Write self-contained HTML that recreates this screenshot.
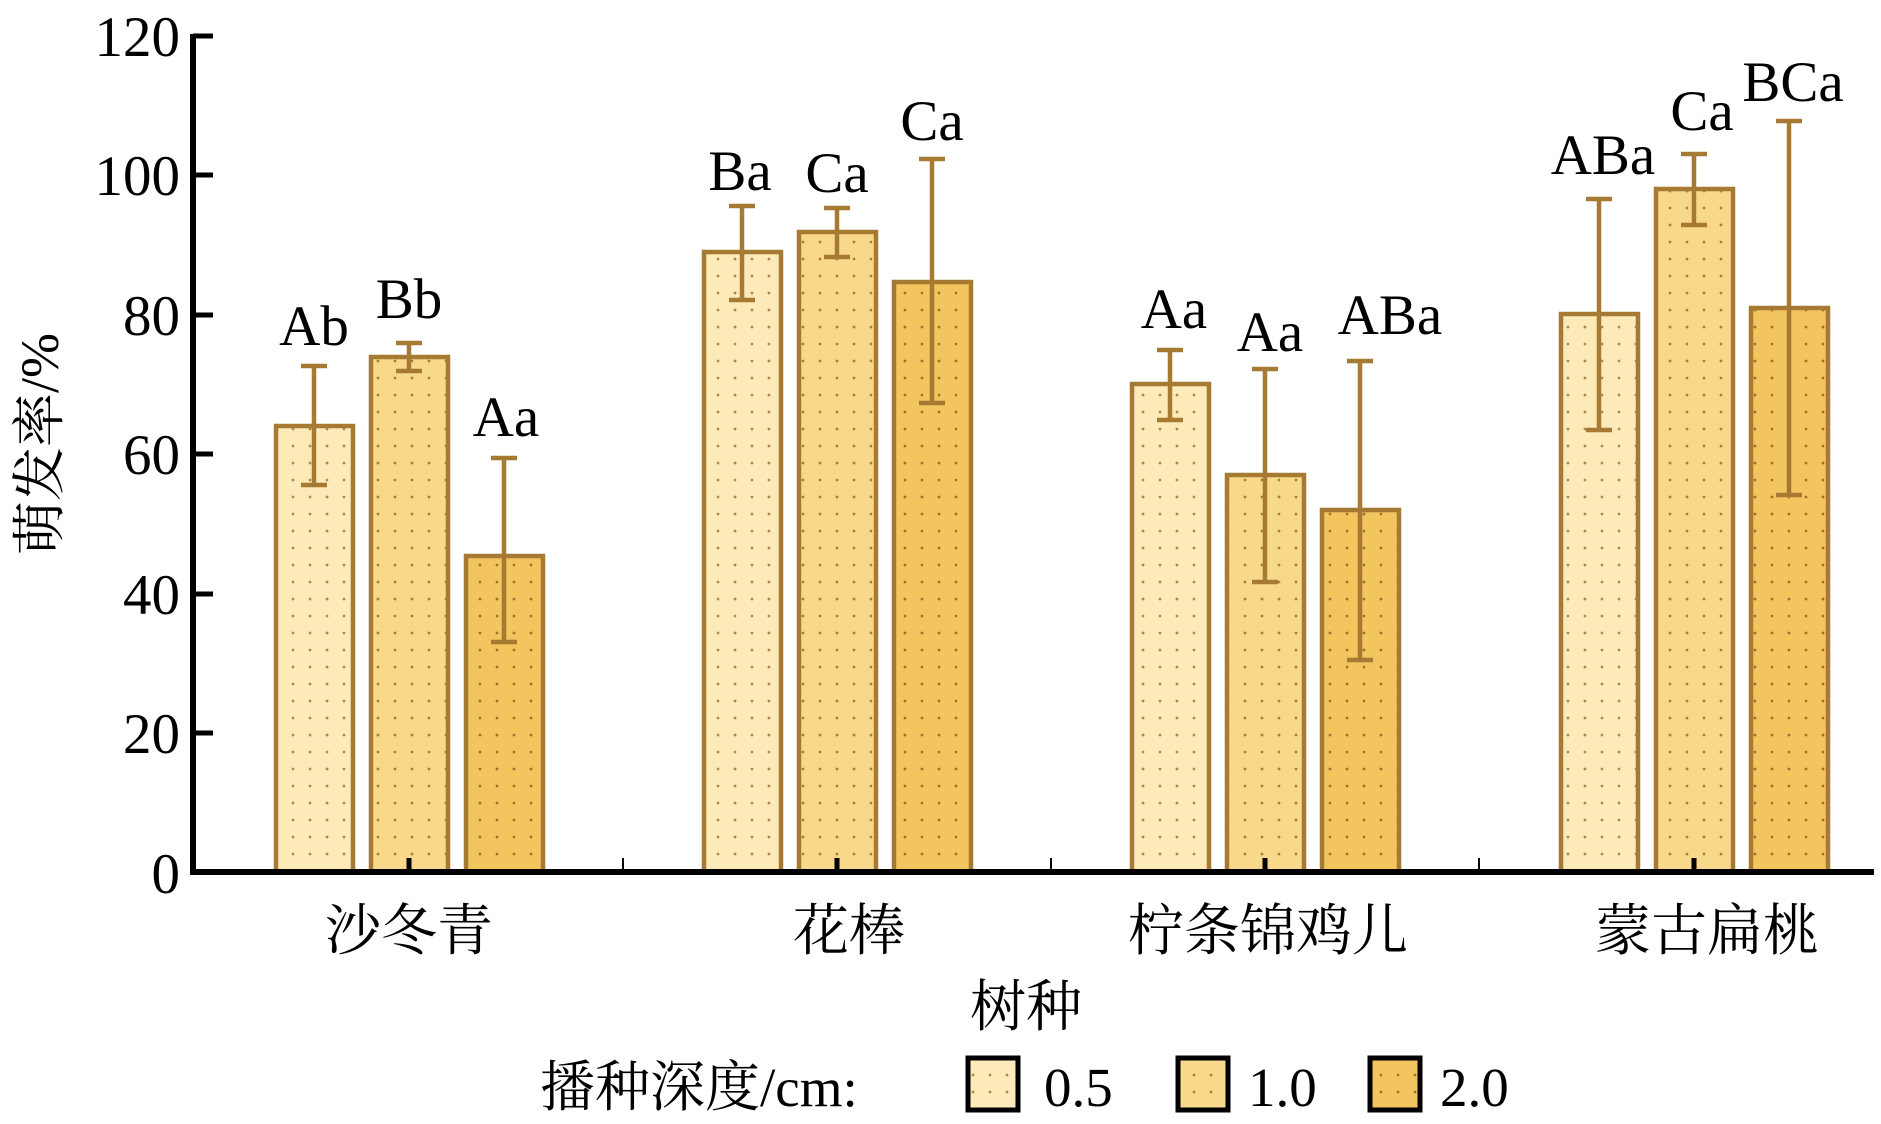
<!DOCTYPE html>
<html><head><meta charset="utf-8"><style>
html,body{margin:0;padding:0;background:#fff}
svg{display:block}
text{font-family:"Liberation Serif","Noto Serif CJK SC",serif;fill:#000}
</style></head><body>
<svg width="1881" height="1124" viewBox="0 0 1881 1124" xmlns="http://www.w3.org/2000/svg">
<defs>
<pattern id="d1" width="17" height="17" patternUnits="userSpaceOnUse"><rect width="17" height="17" fill="#FCEBB8"/><circle cx="4" cy="4" r="1.4" fill="#B08A4A"/></pattern>
<pattern id="d2" width="17" height="17" patternUnits="userSpaceOnUse"><rect width="17" height="17" fill="#F8D98C"/><circle cx="4" cy="4" r="1.4" fill="#A8803C"/></pattern>
<pattern id="d3" width="17" height="17" patternUnits="userSpaceOnUse"><rect width="17" height="17" fill="#F2C55E"/><circle cx="4" cy="4" r="1.4" fill="#9C7430"/></pattern>
</defs>
<g id="bars" stroke="#A67A32" stroke-width="4.5">
<rect x="276" y="426" width="77" height="446" fill="url(#d1)"/>
<rect x="371" y="357" width="77" height="515" fill="url(#d2)"/>
<rect x="466" y="556" width="77" height="316" fill="url(#d3)"/>
<rect x="704" y="252" width="77" height="620" fill="url(#d1)"/>
<rect x="799" y="232" width="77" height="640" fill="url(#d2)"/>
<rect x="894" y="282" width="77" height="590" fill="url(#d3)"/>
<rect x="1132" y="384" width="77" height="488" fill="url(#d1)"/>
<rect x="1227" y="475" width="77" height="397" fill="url(#d2)"/>
<rect x="1322" y="510" width="77" height="362" fill="url(#d3)"/>
<rect x="1561" y="314" width="77" height="558" fill="url(#d1)"/>
<rect x="1656" y="189" width="77" height="683" fill="url(#d2)"/>
<rect x="1751" y="308" width="77" height="564" fill="url(#d3)"/>
</g>
<g stroke="#A67A32" stroke-width="4.5" fill="none">
<path d="M314 366V485M301 366h26M301 485h26"/>
<path d="M409 343V371M396 343h26M396 371h26"/>
<path d="M504 458V642M491 458h26M491 642h26"/>
<path d="M742 206V300M729 206h26M729 300h26"/>
<path d="M837 208V257M824 208h26M824 257h26"/>
<path d="M932 159V403M919 159h26M919 403h26"/>
<path d="M1170 350V420M1157 350h26M1157 420h26"/>
<path d="M1265 369V582M1252 369h26M1252 582h26"/>
<path d="M1360 361V660M1347 361h26M1347 660h26"/>
<path d="M1599 199V430M1586 199h26M1586 430h26"/>
<path d="M1694 154V225M1681 154h26M1681 225h26"/>
<path d="M1789 121V495M1776 121h26M1776 495h26"/>
</g>
<g stroke="#000" fill="none">
<path d="M193 34V874" stroke-width="6"/>
<path d="M190 872H1874" stroke-width="6"/>
<path d="M193 36h20M193 175h20M193 315h20M193 454h20M193 594h20M193 733h20" stroke-width="5"/>
<path d="M409 872v-14M837 872v-14M1265 872v-14M1694 872v-14" stroke-width="5"/>
<path d="M623 872v-14M1051 872v-14M1479 872v-14" stroke-width="2"/>
</g>
<g font-size="57" text-anchor="end">
<text x="180" y="56">120</text>
<text x="180" y="195">100</text>
<text x="180" y="335">80</text>
<text x="180" y="474">60</text>
<text x="180" y="614">40</text>
<text x="180" y="753">20</text>
<text x="180" y="893">0</text>
</g>
<g font-size="57" text-anchor="middle">
<text x="314" y="345">Ab</text>
<text x="409" y="318">Bb</text>
<text x="506" y="436">Aa</text>
<text x="740" y="190">Ba</text>
<text x="837" y="192">Ca</text>
<text x="932" y="140">Ca</text>
<text x="1174" y="328">Aa</text>
<text x="1270" y="351">Aa</text>
<text x="1390" y="334">ABa</text>
<text x="1603" y="174">ABa</text>
<text x="1702" y="130">Ca</text>
<text x="1793" y="101">BCa</text>
</g>
<g font-size="56" text-anchor="middle">
<text x="409" y="950">沙冬青</text>
<text x="849" y="950">花棒</text>
<text x="1268" y="950">柠条锦鸡儿</text>
<text x="1707" y="950">蒙古扁桃</text>
<text x="1026" y="1026">树种</text>
</g>
<text font-size="54" text-anchor="middle" transform="translate(58,444) rotate(-90)">萌发率/%</text>
<g font-size="55">
<text x="540" y="1106">播种深度/cm:</text>
<text x="1044" y="1106">0.5</text>
<text x="1248" y="1106">1.0</text>
<text x="1440" y="1106">2.0</text>
</g>
<g stroke="#000" stroke-width="5">
<rect x="968" y="1058" width="50" height="52" fill="url(#d1)"/>
<rect x="1178" y="1058" width="50" height="52" fill="url(#d2)"/>
<rect x="1370" y="1058" width="50" height="52" fill="url(#d3)"/>
</g>
</svg>
</body></html>
